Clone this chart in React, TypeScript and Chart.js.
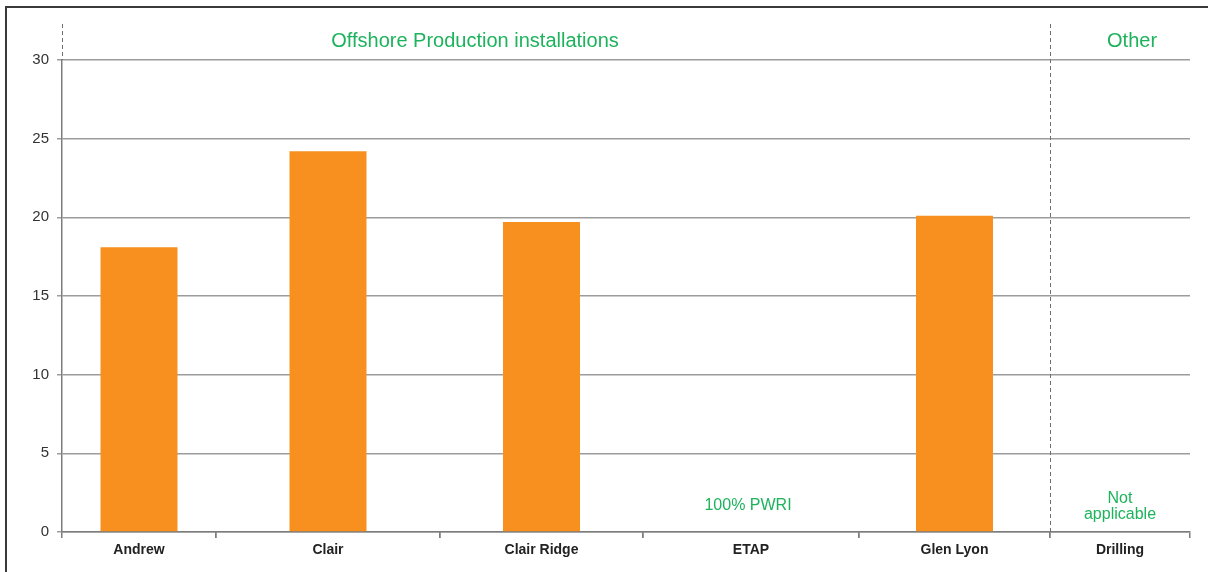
import React, { useEffect, useRef } from "react";
import { Chart, registerables } from "chart.js";

Chart.register(...registerables);

// ---- data ----
const categories = ["Andrew", "Clair", "Clair Ridge", "ETAP", "Glen Lyon", "Drilling"];
const values: (number | null)[] = [18.1, 24.2, 19.7, null, 20.1, null];
const yTickValues = [0, 5, 10, 15, 20, 25, 30];
const groupTitles = ["Offshore Production installations", "Other"];
const etapNote = "100% PWRI";
const drillingNote = ["Not", "applicable"];

// ---- layout & style ----
const WIDTH = 1208;
const HEIGHT = 572;
// relative width of each category slot along the bottom axis
const SLOT_WEIGHTS = [154, 224, 203, 216, 191, 140];
const FONT = "'Liberation Sans', Arial, Helvetica, sans-serif";
const ORANGE = "#F7901E";
const GREEN = "#1DB35C";
const GRID = "#9c9c9c";
const AXIS = "#7d7d7d";

const decorations = {
  id: "decorations",
  beforeDraw(chart: any) {
    const { ctx, width, height } = chart;
    ctx.save();
    ctx.fillStyle = "#ffffff";
    ctx.fillRect(0, 0, width, height);
    // frame: top and left edges
    ctx.strokeStyle = "#3a3a3a";
    ctx.lineWidth = 2;
    ctx.beginPath();
    ctx.moveTo(6, height);
    ctx.lineTo(6, 7);
    ctx.lineTo(width, 7);
    ctx.stroke();
    ctx.restore();
  },
  afterDraw(chart: any) {
    const { ctx, chartArea } = chart;
    const sc = chart.scales;
    const prodLeft = sc.x0.left;
    const prodRight = sc.x4.right;
    const other = sc.x5;
    const etap = sc.x3;

    ctx.save();
    // dashed group separators
    ctx.strokeStyle = "#707070";
    ctx.lineWidth = 1;
    ctx.setLineDash([4, 3]);
    ctx.beginPath();
    const lx = Math.round(chartArea.left) + 0.5;
    ctx.moveTo(lx, 24);
    ctx.lineTo(lx, chartArea.top);
    const sx = Math.round(other.left) + 0.5;
    ctx.moveTo(sx, 24);
    ctx.lineTo(sx, chartArea.bottom);
    ctx.stroke();
    ctx.setLineDash([]);

    // group titles
    ctx.fillStyle = GREEN;
    ctx.textAlign = "center";
    ctx.textBaseline = "alphabetic";
    ctx.font = `20px ${FONT}`;
    ctx.fillText(groupTitles[0], prodLeft + (prodRight - prodLeft) * 0.418, 47);
    ctx.fillText(groupTitles[1], other.left + (other.right - other.left) * 0.586, 47);

    // notes for categories without a bar
    ctx.font = `16px ${FONT}`;
    ctx.fillText(etapNote, (etap.left + etap.right) / 2 - 3, chartArea.bottom - 22);
    const ox = (other.left + other.right) / 2;
    ctx.fillText(drillingNote[0], ox, chartArea.bottom - 29);
    ctx.fillText(drillingNote[1], ox, chartArea.bottom - 13);
    ctx.restore();
  },
};

// one single-category axis per slot, laid side by side along the bottom
function buildXScales() {
  const scales: Record<string, any> = {};
  categories.forEach((cat, i) => {
    scales[`x${i}`] = {
      type: "category",
      labels: [cat],
      position: "bottom",
      stack: "categories",
      stackWeight: SLOT_WEIGHTS[i],
      offset: true,
      afterFit(scale: any) {
        scale.height = 40;
      },
      grid: {
        offset: true,
        drawOnChartArea: false,
        tickLength: 6,
        color: AXIS,
        lineWidth: 1.5,
      },
      border: { color: AXIS, width: 1.5 },
      ticks: {
        font: { family: FONT, size: 14, weight: "bold" },
        color: "#222222",
        padding: 4,
        maxRotation: 0,
        autoSkip: false,
      },
    };
  });
  return scales;
}

export default function App() {
  const canvasRef = useRef<HTMLCanvasElement | null>(null);

  useEffect(() => {
    if (!canvasRef.current) return;
    const chart = new Chart(canvasRef.current, {
      type: "bar",
      data: {
        datasets: categories.map((cat, i) => ({
          label: cat,
          data: [values[i]],
          xAxisID: `x${i}`,
          yAxisID: "y",
          grouped: false,
          backgroundColor: ORANGE,
          borderWidth: 0,
          maxBarThickness: 77,
        })),
      },
      options: {
        responsive: false,
        animation: false,
        devicePixelRatio: 1,
        layout: { padding: { left: 0, right: 18, top: 60, bottom: 0 } },
        plugins: {
          legend: { display: false },
          tooltip: { enabled: false },
        },
        scales: {
          ...buildXScales(),
          y: {
            position: "left",
            min: 0,
            max: 30,
            stacked: false,
            afterFit(scale: any) {
              scale.width = 62;
            },
            afterBuildTicks(scale: any) {
              scale.ticks = yTickValues.map((v) => ({ value: v }));
            },
            grid: { color: GRID, lineWidth: 1.5, tickLength: 5 },
            border: { display: true, color: AXIS, width: 1.5 },
            ticks: {
              font: { family: FONT, size: 15 },
              color: "#333333",
              padding: 8,
            },
          },
        },
      } as any,
      plugins: [decorations],
    });
    return () => chart.destroy();
  }, []);

  return (
    <div style={{ position: "absolute", left: 0, top: 0, width: WIDTH, height: HEIGHT }}>
      <canvas ref={canvasRef} width={WIDTH} height={HEIGHT} style={{ display: "block" }} />
    </div>
  );
}
